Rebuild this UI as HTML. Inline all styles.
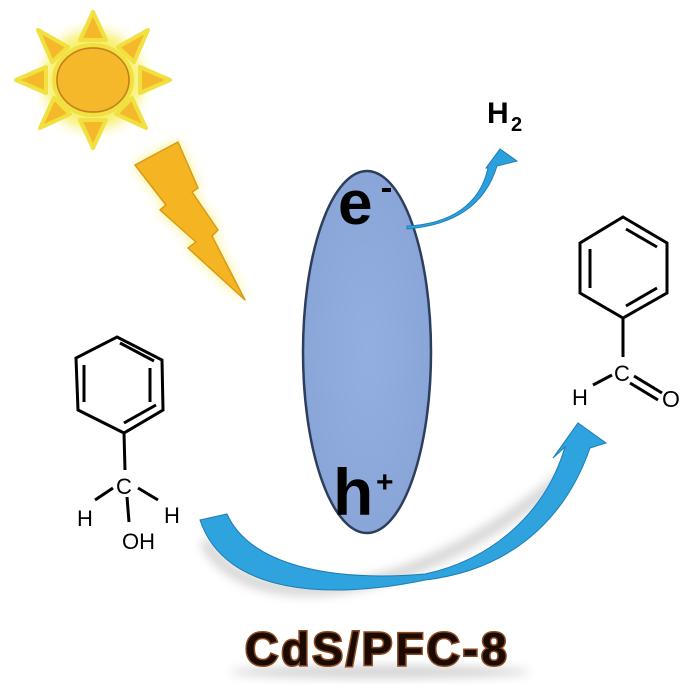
<!DOCTYPE html>
<html><head><meta charset="utf-8"><style>
html,body{margin:0;padding:0;background:#fff;}
svg{display:block;}
text{font-family:"Liberation Sans",Arial,sans-serif;font-weight:bold;}
.n{font-weight:normal;}
</style></head><body>
<svg width="693" height="693" viewBox="0 0 693 693">
<defs>
<filter id="glow" x="-50%" y="-50%" width="200%" height="200%"><feGaussianBlur stdDeviation="6"/></filter>
<filter id="blur" x="-20%" y="-50%" width="140%" height="200%"><feGaussianBlur stdDeviation="5"/></filter>
<radialGradient id="eg" cx="0.5" cy="0.5" r="0.5"><stop offset="0" stop-color="#93aee0"/><stop offset="1" stop-color="#8aa5d8"/></radialGradient>
</defs>
<!-- sun -->
<g>
<circle cx="93" cy="80" r="50" fill="#f8f070" filter="url(#glow)"/>
<g fill="#f5b82a" stroke="#f0e040" stroke-width="4" stroke-linejoin="round">
<polygon points="93,12 80,40 106,40"/>
<polygon points="170,80 140,67 140,93"/>
<polygon points="16,80 46,67 46,93"/>
<polygon points="93,148 80,120 106,120"/>
<polygon points="38,30 68,47 52,62"/>
<polygon points="148,30 118,47 134,62"/>
<polygon points="40,128 54,98 70,114"/>
<polygon points="146,128 132,98 116,114"/>
<ellipse cx="93" cy="80" rx="39" ry="35"/>
</g>
<ellipse cx="93" cy="80" rx="36" ry="32" fill="#f5b82a" stroke="#c08020" stroke-width="1.5"/>
</g>
<!-- lightning -->
<polygon points="135,165 178,142 198,188 192,192 218,230 212,236 245,300 188,248 196,242 160,210 166,205" fill="#f8f070" filter="url(#glow)"/>
<polygon points="135,165 178,142 198,188 192,192 218,230 212,236 245,300 188,248 196,242 160,210 166,205" fill="#f5b522" stroke="#d89a1a" stroke-width="1.5" stroke-linejoin="round"/>
<!-- ellipse -->
<ellipse cx="367" cy="352" rx="64" ry="181" fill="url(#eg)" stroke="#2c3e5c" stroke-width="2.5"/>
<text x="338" y="224" font-size="62" fill="#000">e</text>
<rect x="382" y="188" width="9" height="4" fill="#000"/>
<text x="333" y="515" font-size="66" fill="#000">h</text>
<text x="376" y="492" font-size="30" fill="#000">+</text>
<!-- small arrow -->
<path d="M407,226 C450,224 480,205 488,168 L486,168 L500,149 L517,161 L497,166 C485,205 455,225 407,229 Z" fill="#2ca0dc" stroke="#1f7fb8" stroke-width="1"/>
<text x="487" y="123" font-size="30" fill="#000">H</text>
<text x="511" y="131" font-size="20" fill="#000">2</text>
<!-- big arrow shadow -->
<path d="M205,540 C240,615 400,615 565,475" stroke="#888" stroke-width="12" fill="none" opacity="0.35" filter="url(#blur)"/>
<!-- big arrow -->
<path d="M200,520 L227,514 C250,565 330,582 425,574 C490,560 545,515 565,447 L553,458 L578,423 L606,443 L590,448 C565,520 510,570 425,580 C330,600 225,595 200,520 Z" fill="#2fa3de" stroke="#1d7cb6" stroke-width="1"/>
<!-- benzyl alcohol -->
<g stroke="#000" stroke-width="3" fill="none">
<polygon points="117,337 162,360 163,410 124,433 78,410 76,358"/>
<line x1="150" y1="368" x2="150" y2="402" /><line x1="84" y1="365" x2="84" y2="402"/>
<line x1="120" y1="343" x2="154" y2="361"/><line x1="124" y1="423" x2="156" y2="405"/>
<line x1="124" y1="433" x2="125" y2="470"/>
<line x1="113" y1="488" x2="95" y2="500"/><line x1="138" y1="488" x2="158" y2="500"/>
<line x1="127" y1="497" x2="129" y2="522"/>
</g>
<text x="116" y="494" font-size="22" class="n" fill="#000">C</text>
<text x="77" y="526" font-size="22" class="n" fill="#000">H</text>
<text x="164" y="523" font-size="22" class="n" fill="#000">H</text>
<text x="122" y="549" font-size="22" class="n" fill="#000">OH</text>
<!-- benzaldehyde -->
<g stroke="#000" stroke-width="3" fill="none">
<polygon points="623,217 667,243 667,293 623,318 580,293 580,243"/>
<line x1="626" y1="229" x2="657" y2="247"/><line x1="590" y1="249" x2="590" y2="288"/><line x1="626" y1="306" x2="657" y2="288"/>
<line x1="623" y1="318" x2="623" y2="357"/>
<line x1="612" y1="375" x2="593" y2="385"/>
<line x1="634" y1="376" x2="662" y2="393"/><line x1="630" y1="383" x2="658" y2="400"/>
</g>
<text x="614" y="381" font-size="22" class="n" fill="#000">C</text>
<text x="572" y="405" font-size="22" class="n" fill="#000">H</text>
<text x="662" y="407" font-size="23" class="n" fill="#000">O</text>
<!-- title -->
<ellipse cx="380" cy="672" rx="150" ry="6" fill="#999" opacity="0.45" filter="url(#blur)"/>
<text x="245" y="665" font-size="46" fill="#1a0a00" stroke="#8a4a20" stroke-width="3" paint-order="stroke" letter-spacing="3">CdS/PFC-8</text>
</svg>
</body></html>
